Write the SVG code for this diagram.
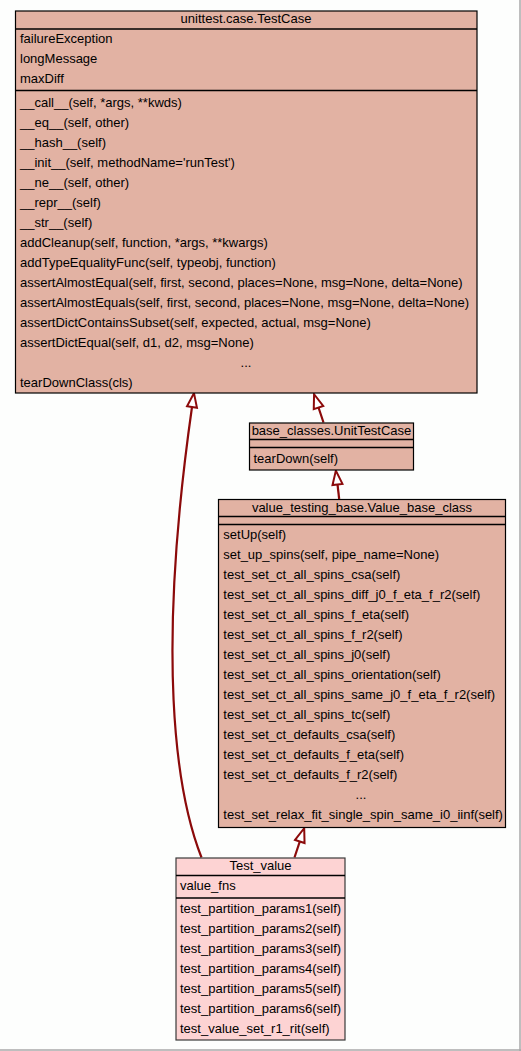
<svg xmlns="http://www.w3.org/2000/svg" width="521" height="1051" viewBox="0 0 521 1051">
<style>
text{font-family:"Liberation Sans",Arial,sans-serif;font-size:13px;fill:#000}
.c{text-anchor:middle}
.base{fill:#e2b2a3;stroke:#000;stroke-width:1.2}
.cur{fill:#fdd3d3;stroke:#3a3a3a;stroke-width:1.2}
.sep{stroke:#000;stroke-width:1.4}
.edge{fill:none;stroke:#8b0a0a;stroke-width:2.2}
</style>
<defs>
<marker id="inh" markerUnits="userSpaceOnUse" markerWidth="20" markerHeight="16" viewBox="-1 -8 18 16" refX="0" refY="0" orient="auto">
<path d="M0,-5 L14,0 L0,5 Z" fill="#fff" stroke="#8b0a0a" stroke-width="2"/>
</marker>
</defs>
<rect x="0" y="0" width="521" height="1051" fill="#fdfefd"/>
<line x1="520" y1="0" x2="520" y2="1051" stroke="#a8a8a8" stroke-width="1.5"/>
<line x1="0" y1="1050" x2="521" y2="1050" stroke="#a8a8a8" stroke-width="1.5"/>

<g id="connectors">
<path class="edge" d="M201.5,857.5 C175,790 156.7,654.5 192,407" marker-end="url(#inh)"/>
<path class="edge" d="M323.5,422.5 L318.5,407.5" marker-end="url(#inh)"/>
<path class="edge" d="M339.2,499 L337.5,484.5" marker-end="url(#inh)"/>
<path class="edge" d="M294.5,857.5 L299.8,841.5" marker-end="url(#inh)"/>
</g>

<g id="TestCase">
<rect class="base" x="15.5" y="11" width="461.5" height="382"/>
<line class="sep" x1="15.5" y1="29" x2="477" y2="29"/>
<line class="sep" x1="15.5" y1="90.5" x2="477" y2="90.5"/>
<text class="c" x="246" y="23">unittest.case.TestCase</text>
<text x="20" y="43.3">failureException</text>
<text x="20" y="63.3">longMessage</text>
<text x="20" y="83.3">maxDiff</text>
<text x="20" y="106.5">__call__(self, *args, **kwds)</text>
<text x="20" y="126.5">__eq__(self, other)</text>
<text x="20" y="146.5">__hash__(self)</text>
<text x="20" y="166.5">__init__(self, methodName='runTest')</text>
<text x="20" y="186.5">__ne__(self, other)</text>
<text x="20" y="206.5">__repr__(self)</text>
<text x="20" y="226.5">__str__(self)</text>
<text x="20" y="246.5">addCleanup(self, function, *args, **kwargs)</text>
<text x="20" y="266.5">addTypeEqualityFunc(self, typeobj, function)</text>
<text x="20" y="286.5">assertAlmostEqual(self, first, second, places=None, msg=None, delta=None)</text>
<text x="20" y="306.5">assertAlmostEquals(self, first, second, places=None, msg=None, delta=None)</text>
<text x="20" y="326.5">assertDictContainsSubset(self, expected, actual, msg=None)</text>
<text x="20" y="346.5">assertDictEqual(self, d1, d2, msg=None)</text>
<text class="c" x="246" y="366.5">...</text>
<text x="20" y="386.5">tearDownClass(cls)</text>
</g>

<g id="UnitTestCase">
<rect class="base" x="249.5" y="423" width="164" height="47"/>
<line class="sep" x1="249.5" y1="439.5" x2="413.5" y2="439.5"/>
<line class="sep" x1="249.5" y1="447.5" x2="413.5" y2="447.5"/>
<text class="c" x="331.5" y="435">base_classes.UnitTestCase</text>
<text x="253.5" y="462.7">tearDown(self)</text>
</g>

<g id="Value_base_class">
<rect class="base" x="218.5" y="499.5" width="287" height="328"/>
<line class="sep" x1="218.5" y1="516.5" x2="505.5" y2="516.5"/>
<line class="sep" x1="218.5" y1="524.5" x2="505.5" y2="524.5"/>
<text class="c" x="362" y="511.7">value_testing_base.Value_base_class</text>
<text x="223.3" y="539.3">setUp(self)</text>
<text x="223.3" y="559.3">set_up_spins(self, pipe_name=None)</text>
<text x="223.3" y="579.3">test_set_ct_all_spins_csa(self)</text>
<text x="223.3" y="599.3">test_set_ct_all_spins_diff_j0_f_eta_f_r2(self)</text>
<text x="223.3" y="619.3">test_set_ct_all_spins_f_eta(self)</text>
<text x="223.3" y="639.3">test_set_ct_all_spins_f_r2(self)</text>
<text x="223.3" y="659.3">test_set_ct_all_spins_j0(self)</text>
<text x="223.3" y="679.3">test_set_ct_all_spins_orientation(self)</text>
<text x="223.3" y="699.3">test_set_ct_all_spins_same_j0_f_eta_f_r2(self)</text>
<text x="223.3" y="719.3">test_set_ct_all_spins_tc(self)</text>
<text x="223.3" y="739.3">test_set_ct_defaults_csa(self)</text>
<text x="223.3" y="759.3">test_set_ct_defaults_f_eta(self)</text>
<text x="223.3" y="779.3">test_set_ct_defaults_f_r2(self)</text>
<text class="c" x="361" y="799.3">...</text>
<text x="223.3" y="819.3">test_set_relax_fit_single_spin_same_i0_iinf(self)</text>
</g>

<g id="Test_value">
<rect class="cur" x="176" y="858" width="169" height="182"/>
<line class="sep" x1="176" y1="875.5" x2="345" y2="875.5"/>
<line class="sep" x1="176" y1="898" x2="345" y2="898"/>
<text class="c" x="260.5" y="869.5">Test_value</text>
<text x="180" y="890">value_fns</text>
<text x="180" y="913.3">test_partition_params1(self)</text>
<text x="180" y="933.3">test_partition_params2(self)</text>
<text x="180" y="953.3">test_partition_params3(self)</text>
<text x="180" y="973.3">test_partition_params4(self)</text>
<text x="180" y="993.3">test_partition_params5(self)</text>
<text x="180" y="1013.3">test_partition_params6(self)</text>
<text x="180" y="1033.3">test_value_set_r1_rit(self)</text>
</g>
</svg>
